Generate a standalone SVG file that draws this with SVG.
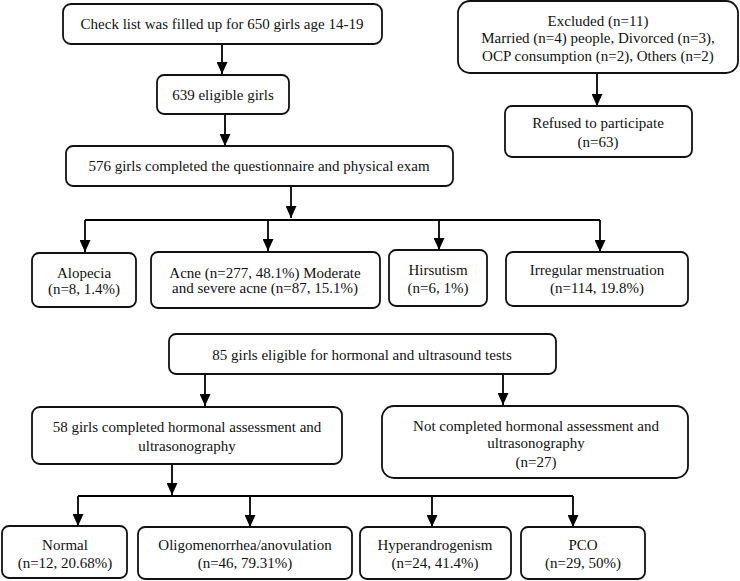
<svg xmlns="http://www.w3.org/2000/svg" width="740" height="581" viewBox="0 0 740 581">
<defs>
<marker id="arr" markerUnits="userSpaceOnUse" markerWidth="12" markerHeight="11" refX="12" refY="5.5" orient="auto" viewBox="0 0 12 11">
<path d="M0,0 L12,5.5 L0,11 Z" fill="#000"/>
</marker>
<style>
rect{fill:#fff;stroke:#111;stroke-width:1.8}
text{font-family:"Liberation Serif","Times New Roman",serif;font-size:15px;fill:#111;text-anchor:middle}
.c{fill:none;stroke:#000;stroke-width:1.8}
.a{fill:none;stroke:#000;stroke-width:1.8;marker-end:url(#arr)}
</style>
</defs>
<rect x="0" y="0" width="740" height="581" style="fill:#fff;stroke:none"/>
<g id="connectors">
<path class="a" d="M222,44 V74"/>
<path class="a" d="M225,114 V146"/>
<path class="a" d="M597,73 V106"/>
<path class="a" d="M291,186 V218"/>
<path class="c" d="M85,220 H600"/>
<path class="a" d="M85,220 V252"/>
<path class="a" d="M268,220 V251"/>
<path class="a" d="M439,220 V250"/>
<path class="a" d="M600,220 V252"/>
<path class="a" d="M205,374 V406"/>
<path class="a" d="M503,374 V405"/>
<path class="a" d="M172,464 V495"/>
<path class="c" d="M78,496 H573"/>
<path class="a" d="M78,496 V526"/>
<path class="a" d="M250,496 V527"/>
<path class="a" d="M432,496 V527"/>
<path class="a" d="M573,496 V527"/>
</g>
<g id="n1"><rect x="63" y="4" width="319" height="40" rx="8"/><text x="222" y="29">Check list was filled up for 650 girls age 14-19</text></g>
<g id="n2"><rect x="157" y="75" width="132" height="39" rx="7"/><text x="223" y="100">639 eligible girls</text></g>
<g id="n3"><rect x="66" y="146" width="387" height="40" rx="7"/><text x="259" y="171">576 girls completed the questionnaire and physical exam</text></g>
<g id="n4"><rect x="458" y="1" width="280" height="72" rx="12"/><text x="598" y="26">Excluded (n=11)</text><text x="598" y="43">Married (n=4) people, Divorced (n=3),</text><text x="598" y="61">OCP consumption (n=2), Others (n=2)</text></g>
<g id="n5"><rect x="505" y="106" width="187" height="51" rx="7"/><text x="598" y="128">Refused to participate</text><text x="598" y="147">(n=63)</text></g>
<g id="n6"><rect x="32" y="253" width="104" height="54" rx="7"/><text x="84" y="278">Alopecia</text><text x="84" y="294">(n=8, 1.4%)</text></g>
<g id="n7"><rect x="151" y="252" width="229" height="56" rx="7"/><text x="265" y="278">Acne (n=277, 48.1%) Moderate</text><text x="265" y="293">and severe acne (n=87, 15.1%)</text></g>
<g id="n8"><rect x="389" y="250" width="98" height="56" rx="7"/><text x="438" y="275">Hirsutism</text><text x="438" y="293">(n=6, 1%)</text></g>
<g id="n9"><rect x="506" y="252" width="182" height="54" rx="7"/><text x="597" y="275">Irregular menstruation</text><text x="597" y="293">(n=114, 19.8%)</text></g>
<g id="n10"><rect x="169" y="334" width="387" height="40" rx="7"/><text x="362" y="360">85 girls eligible for hormonal and ultrasound tests</text></g>
<g id="n11"><rect x="32" y="407" width="310" height="57" rx="8"/><text x="187" y="432">58 girls completed hormonal assessment and</text><text x="187" y="451">ultrasonography</text></g>
<g id="n12"><rect x="382" y="406" width="306" height="72" rx="12"/><text x="536" y="431">Not completed hormonal assessment and</text><text x="536" y="448">ultrasonography</text><text x="536" y="467">(n=27)</text></g>
<g id="n13"><rect x="2" y="526" width="125" height="52" rx="7"/><text x="65" y="550">Normal</text><text x="65" y="568">(n=12, 20.68%)</text></g>
<g id="n14"><rect x="138" y="527" width="214" height="52" rx="7"/><text x="245" y="550">Oligomenorrhea/anovulation</text><text x="245" y="568">(n=46, 79.31%)</text></g>
<g id="n15"><rect x="360" y="527" width="151" height="52" rx="7"/><text x="435" y="550">Hyperandrogenism</text><text x="435" y="568">(n=24, 41.4%)</text></g>
<g id="n16"><rect x="521" y="527" width="124" height="52" rx="7"/><text x="583" y="550">PCO</text><text x="583" y="568">(n=29, 50%)</text></g>
</svg>
